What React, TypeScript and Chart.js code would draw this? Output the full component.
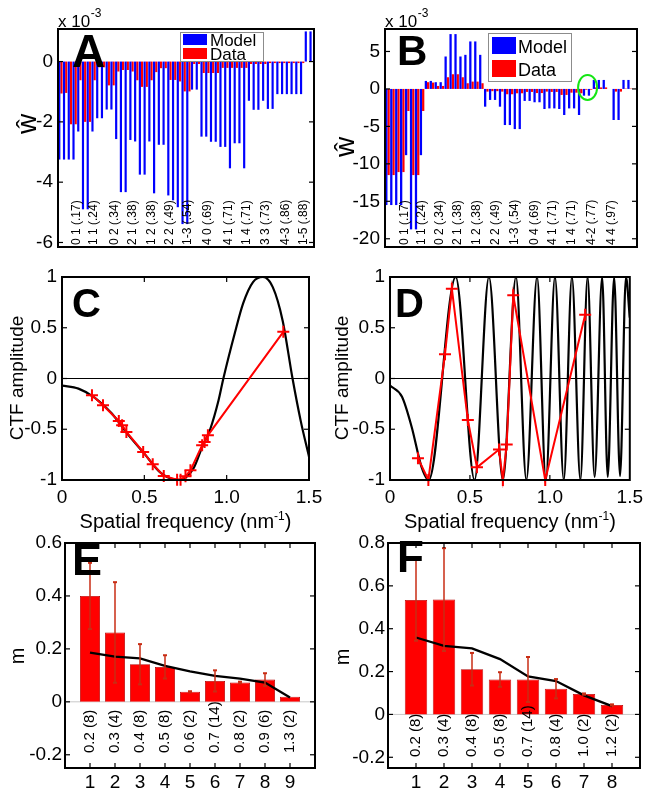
import React, { useEffect, useRef } from 'react';
import { Chart, registerables } from 'chart.js';

Chart.register(...registerables);

const W = 649;
const H = 794;
const FAMILY = '"Liberation Sans", Arial, Helvetica, sans-serif';
Chart.defaults.font.family = FAMILY;
Chart.defaults.color = '#000';

// ================= DATA =================
// Panel A  (w-hat, units of 1e-3)
const aModel = [-3.25, -3.25, -3.25, -3.25, -2.32, -4.9, -4.9, -2.32, -1.88, -1.88, -1.59, -1.59, -2.57, -4.33, -4.33, -2.6, -2.65, -3.75, -3.75, -2.65, -4.37, -2.76, -2.76, -4.44, -4.6, -4.83, -5.39, -5.39, -0.93, -0.93, -2.49, -2.49, -2.66, -2.66, -2.83, -2.83, -3.54, -2.71, -2.71, -3.54, -1.3, -1.6, -1.6, -1.3, -1.57, -1.57, -1.08, -1.08, -1.08, -1.08, -1.08, -1.08, 1.0, 1.0];
const aData = [-1.06, -1.04, -2.08, -2.08, -0.62, -2.0, -2.0, -0.62, -0.19, -0.19, -0.79, -0.79, -0.33, -0.28, -0.28, -0.33, -0.62, -0.84, -0.84, -0.62, -0.35, -0.22, -0.22, -0.61, -0.61, -0.66, -0.99, -0.99, -0.08, -0.08, -0.38, -0.38, -0.38, -0.38, -0.21, -0.21, -0.21, -0.21, -0.21, -0.21, -0.08, -0.08, -0.08, -0.08, -0.05, -0.05, -0.05, -0.05, -0.05, -0.05, -0.05, -0.05, 0, 0];
const aLabels = ['0 1 (.17)', '1 1 (.24)', '0 2 (.34)', '2 1 (.38)', '1 2 (.38)', '2 2 (.49)', '1-3 (.54)', '4 0 (.69)', '4 1 (.71)', '1 4 (.71)', '3 3 (.73)', '4-3 (.86)', '1-5 (.88)'];
const aLabelAt = [3.5, 7.1, 11.5, 15.3, 19.3, 23.1, 26.9, 31.0, 35.4, 39.4, 43.3, 47.5, 51.4];
const aYTicks = [-6, -4, -2, 0];
const aYTickLabels = ['-6', '-4', '-2', '0'];

// Panel B
const bModel = [-15.5, -15.5, -15.5, -15.5, -8.84, -18.75, -18.75, -8.84, 1.07, 1.07, 0.9, 0.9, 4.33, 7.32, 7.32, 4.33, 4.55, 6.34, 6.34, 4.55, -2.37, -1.47, -1.47, -2.37, -4.82, -4.82, -5.36, -5.36, -1.6, -1.6, -1.78, -1.78, -2.68, -2.6, -2.6, -2.68, -3.48, -2.6, -2.6, -3.48, -0.9, -0.9, 1.2, 1.2, 1.2, 0, -4.15, -4.15, 1.2, 1.2, 0];
const bData = [-11.5, -11.5, -11.1, -11.1, -2.95, -11.5, -11.5, -2.95, 0.9, 0.85, 0.4, 0.4, 1.56, 1.96, 1.96, 1.56, 0.76, 0.98, 0.98, 0.76, -0.36, -0.3, -0.3, -0.36, -0.71, -0.71, -0.58, -0.58, -0.4, -0.4, -0.55, -0.55, -0.36, -0.4, -0.4, -0.8, -0.8, -0.5, -0.5, -0.58, -0.1, -0.1, 0.2, 0.2, 0.2, 0, -0.36, -0.36, 0.05, 0.05, 0];
const bLabels = ['0 1 (.17)', '1 1 (.24)', '0 2 (.34)', '2 1 (.38)', '1 2 (.38)', '2 2 (.49)', '1-3 (.54)', '0 4 (.69)', '4 1 (.71)', '1 4 (.71)', '4-2 (.77)', '4 4 (.97)'];
const bLabelAt = [3.5, 7.0, 10.6, 14.3, 18.1, 21.8, 25.8, 29.7, 33.5, 37.3, 41.4, 45.3];
const bYTicks = [-20, -15, -10, -5, 0, 5];
const bYTickLabels = ['-20', '-15', '-10', '-5', '0', '5'];

// Panel C  (CTF curve and measured points)
const cCurveX = [0, 0.1, 0.2, 0.3, 0.4, 0.5, 0.6, 0.71, 0.8, 0.85, 0.9, 0.95, 0.98, 1.05, 1.1, 1.16, 1.22, 1.28, 1.34, 1.4, 1.45, 1.5];
const cCurveY = [-0.07, -0.1, -0.19, -0.34, -0.55, -0.74, -0.93, -1.0, -0.88, -0.68, -0.5, -0.22, 0, 0.45, 0.74, 0.95, 1.0, 0.9, 0.57, 0, -0.42, -0.77];
const cDataX = [0.182, 0.249, 0.345, 0.365, 0.391, 0.493, 0.551, 0.618, 0.699, 0.72, 0.75, 0.78, 0.851, 0.866, 0.886, 1.344];
const cDataY = [-0.164, -0.263, -0.418, -0.46, -0.526, -0.724, -0.845, -0.96, -0.997, -0.997, -0.964, -0.905, -0.658, -0.625, -0.56, 0.46];

// Panel D
const dCurveX = [0, 0.075, 0.136, 0.197, 0.242, 0.411, 0.529, 0.619, 0.706, 0.788, 0.853, 0.92, 0.975, 1.032, 1.087, 1.138, 1.191, 1.236, 1.28, 1.327, 1.362, 1.402, 1.439, 1.476, 1.5];
const dCurveY = [-0.07, -0.18, -0.48, -0.87, -1, 1, -1, 1, -1, 1, -1, 1, -1, 1, -1, 1, -1, 1, -0.97, 1, -0.97, 1, -0.96, 1, 0.6];
const dDataX = [0.175, 0.24, 0.344, 0.387, 0.487, 0.544, 0.682, 0.706, 0.73, 0.771, 0.971, 1.221];
const dDataY = [-0.785, -1.0, 0.24, 0.885, -0.41, -0.875, -0.7, -1.0, -0.65, 0.82, -1.0, 0.627];

const ctfXTicks = [0, 0.5, 1.0, 1.5];
const ctfXTickLabels = ['0', '0.5', '1.0', '1.5'];
const ctfYTicks = [-1, -0.5, 0, 0.5, 1];
const ctfYTickLabels = ['-1', '-0.5', '0', '0.5', '1'];

// Panel E
const eMean = [0.4, 0.262, 0.142, 0.132, 0.038, 0.079, 0.073, 0.084, 0.019];
const eErr = [0.125, 0.19, 0.076, 0.044, 0.002, 0.04, 0.003, 0.024, 0];
const eModel = [0.186, 0.171, 0.164, 0.136, 0.115, 0.098, 0.088, 0.073, 0.016];
const eLabels = ['0.2 (8)', '0.3 (4)', '0.4 (8)', '0.5 (8)', '0.6 (2)', '0.7 (14)', '0.8 (2)', '0.9 (6)', '1.3 (2)'];
const eXTicks = [1, 2, 3, 4, 5, 6, 7, 8, 9];
const eYTicks = [-0.2, 0, 0.2, 0.4, 0.6];
const eYTickLabels = ['-0.2', '0', '0.2', '0.4', '0.6'];

// Panel F
const fMean = [0.534, 0.536, 0.211, 0.163, 0.163, 0.12, 0.095, 0.044];
const fErr = [0.19, 0.24, 0.076, 0.034, 0.105, 0.045, 0.003, 0.003];
const fModel = [0.359, 0.32, 0.308, 0.258, 0.177, 0.156, 0.089, 0.039];
const fLabels = ['0.2 (8)', '0.3 (4)', '0.4 (8)', '0.5 (8)', '0.7 (14)', '0.8 (4)', '1.0 (2)', '1.2 (2)'];
const fXTicks = [1, 2, 3, 4, 5, 6, 7, 8];
const fYTicks = [-0.2, 0, 0.2, 0.4, 0.6, 0.8];
const fYTickLabels = ['-0.2', '0', '0.2', '0.4', '0.6', '0.8'];

// ================= LAYOUT / HELPERS =================
type Box = { l: number; t: number; r: number; b: number };
const boxA: Box = { l: 58, t: 29, r: 314, b: 247 };
const boxB: Box = { l: 385, t: 29, r: 637, b: 247 };
const boxC: Box = { l: 62, t: 277, r: 309, b: 480 };
const boxD: Box = { l: 390, t: 277, r: 636, b: 480 };
const boxE: Box = { l: 65, t: 543, r: 315, b: 768 };
const boxF: Box = { l: 388, t: 543, r: 640, b: 768 };

const TICK_FONT = { size: 19, family: FAMILY };

function yAxis(box: Box, min: number, max: number, ticks: number[], labels: string[], pad: number) {
  return {
    type: 'linear',
    position: 'left',
    min,
    max,
    grid: { display: false, drawTicks: false },
    border: { display: false },
    afterBuildTicks: (s: any) => {
      s.ticks = ticks.map((v) => ({ value: v }));
    },
    afterFit: (s: any) => {
      s.width = box.l;
    },
    ticks: {
      callback: (_v: any, i: number) => labels[i],
      font: TICK_FONT,
      color: '#000',
      padding: pad,
      autoSkip: false,
    },
  };
}

function xAxis(box: Box, min: number, max: number, ticks: number[], labels: string[], pad: number) {
  return {
    type: 'linear',
    position: 'bottom',
    min,
    max,
    offset: false,
    grid: { display: false, drawTicks: false },
    border: { display: false },
    afterBuildTicks: (s: any) => {
      s.ticks = ticks.map((v) => ({ value: v }));
    },
    afterFit: (s: any) => {
      s.height = H - box.b;
    },
    ticks: {
      callback: (_v: any, i: number) => labels[i],
      font: TICK_FONT,
      color: '#000',
      padding: pad,
      autoSkip: false,
      maxRotation: 0,
      minRotation: 0,
    },
  };
}

function baseOptions(box: Box, scales: any, hiddenX: boolean) {
  return {
    responsive: false,
    maintainAspectRatio: false,
    animation: false,
    devicePixelRatio: 1,
    events: [],
    layout: {
      autoPadding: false,
      padding: { left: 0, top: box.t, right: W - box.r, bottom: hiddenX ? H - box.b : 0 },
    },
    plugins: { legend: { display: false }, tooltip: { enabled: false }, title: { display: false } },
    scales,
  };
}

function font(size: number, bold = false) {
  return `${bold ? 'bold ' : ''}${size}px ${FAMILY}`;
}

function text(ctx: CanvasRenderingContext2D, s: string, x: number, y: number, f: string, align: CanvasTextAlign = 'left', baseline: CanvasTextBaseline = 'alphabetic', rot = 0, color = '#000') {
  ctx.save();
  ctx.translate(x, y);
  if (rot) ctx.rotate(rot);
  ctx.font = f;
  ctx.textAlign = align;
  ctx.textBaseline = baseline;
  ctx.fillStyle = color;
  ctx.fillText(s, 0, 0);
  ctx.restore();
}

function seg(ctx: CanvasRenderingContext2D, x1: number, y1: number, x2: number, y2: number) {
  ctx.beginPath();
  ctx.moveTo(x1, y1);
  ctx.lineTo(x2, y2);
  ctx.stroke();
}

interface Deco {
  xMarks?: number[];
  yMarks?: number[];
  zero?: { color: string; width: number };
  letter: { text: string; x: number; y: number; size: number };
  yTitle?: { text: string; x: number; y: number; size: number };
  xTitle?: { y: number; size: number };
  exponent?: { x: number; y: number };
  legend?: { x: number; y: number; w: number; h: number; size: number; swX: number; swW: number; swH: number; rowTops: number[]; textX: number; baselines: number[] };
  inLabels?: { texts: string[]; at: number[]; bottom: number; size: number };
  errors?: { mean: number[]; err: number[] };
  ellipse?: { at: number; value: number; rx: number; ry: number };
}

function deco(o: Deco) {
  return {
    id: 'deco',
    beforeDatasetsDraw(chart: any) {
      if (!o.zero) return;
      const { ctx, chartArea: a, scales } = chart;
      const y = scales.y.getPixelForValue(0);
      ctx.save();
      ctx.strokeStyle = o.zero.color;
      ctx.lineWidth = o.zero.width;
      seg(ctx, a.left, y, a.right, y);
      ctx.restore();
    },
    afterDatasetsDraw(chart: any) {
      if (!o.errors) return;
      const { ctx, scales } = chart;
      ctx.save();
      ctx.strokeStyle = 'rgb(200,45,20)';
      o.errors.mean.forEach((m, i) => {
        const e = o.errors!.err[i];
        if (!e) return;
        const px = scales.x.getPixelForValue(i + 1);
        const y1 = scales.y.getPixelForValue(m - e);
        const y2 = scales.y.getPixelForValue(m + e);
        ctx.lineWidth = 1.5;
        seg(ctx, px, y1, px, y2);
        ctx.lineWidth = 2;
        seg(ctx, px - 2, y1, px + 2, y1);
        seg(ctx, px - 2, y2, px + 2, y2);
      });
      ctx.restore();
    },
    afterDraw(chart: any) {
      const { ctx, chartArea: a, scales } = chart;
      ctx.save();
      // in-plot rotated labels
      if (o.inLabels) {
        const L = o.inLabels;
        L.texts.forEach((t, i) => {
          const px = scales.x.getPixelForValue(L.at[i]);
          text(ctx, t, px, L.bottom, font(L.size), 'left', 'middle', -Math.PI / 2);
        });
      }
      // inward tick marks
      ctx.strokeStyle = '#000';
      ctx.lineWidth = 1.2;
      const tl = 5;
      (o.yMarks || []).forEach((v) => {
        const y = scales.y.getPixelForValue(v);
        seg(ctx, a.left, y, a.left + tl, y);
        seg(ctx, a.right, y, a.right - tl, y);
      });
      (o.xMarks || []).forEach((v) => {
        const x = scales.x.getPixelForValue(v);
        seg(ctx, x, a.bottom, x, a.bottom - tl);
        seg(ctx, x, a.top, x, a.top + tl);
      });
      // frame
      ctx.lineWidth = 2;
      ctx.strokeRect(a.left, a.top, a.right - a.left, a.bottom - a.top);
      // ellipse highlight
      if (o.ellipse) {
        const E = o.ellipse;
        const cx = scales.x.getPixelForValue(E.at);
        const cy = scales.y.getPixelForValue(E.value);
        ctx.strokeStyle = 'rgb(20,230,20)';
        ctx.lineWidth = 2;
        ctx.beginPath();
        ctx.ellipse(cx, cy, E.rx, E.ry, 0, 0, Math.PI * 2);
        ctx.stroke();
      }
      // legend
      if (o.legend) {
        const g = o.legend;
        ctx.fillStyle = '#fff';
        ctx.fillRect(g.x, g.y, g.w, g.h);
        ctx.strokeStyle = '#8c8c8c';
        ctx.lineWidth = 1;
        ctx.strokeRect(g.x + 0.5, g.y + 0.5, g.w, g.h);
        const cols = ['rgb(0,0,255)', 'rgb(255,0,0)'];
        const names = ['Model', 'Data'];
        names.forEach((n, i) => {
          ctx.fillStyle = cols[i];
          ctx.fillRect(g.swX, g.rowTops[i], g.swW, g.swH);
          text(ctx, n, g.textX, g.baselines[i], font(g.size));
        });
      }
      // exponent
      if (o.exponent) {
        text(ctx, 'x 10', o.exponent.x, o.exponent.y, font(17));
        ctx.font = font(17);
        const w = ctx.measureText('x 10').width;
        text(ctx, '-3', o.exponent.x + w + 0.5, o.exponent.y - 10, font(12));
      }
      // y title
      if (o.yTitle) {
        const t = o.yTitle;
        text(ctx, t.text, t.x, t.y, font(t.size), 'center', 'middle', -Math.PI / 2);
      }
      // x title with superscript
      if (o.xTitle) {
        const t = o.xTitle;
        const main = 'Spatial frequency (nm';
        const sup = '-1';
        const end = ')';
        ctx.font = font(t.size);
        const w1 = ctx.measureText(main).width;
        const w3 = ctx.measureText(end).width;
        ctx.font = font(Math.round(t.size * 0.62));
        const w2 = ctx.measureText(sup).width;
        const cx = (a.left + a.right) / 2;
        const x0 = cx - (w1 + w2 + w3) / 2;
        text(ctx, main, x0, t.y, font(t.size));
        text(ctx, sup, x0 + w1, t.y - t.size * 0.42, font(Math.round(t.size * 0.62)));
        text(ctx, end, x0 + w1 + w2, t.y, font(t.size));
      }
      // panel letter
      text(ctx, o.letter.text, o.letter.x, o.letter.y, font(o.letter.size, true));
      ctx.restore();
    },
  };
}

// ================= CHART CONFIGS =================
function wBarConfig(box: Box, model: number[], data: number[], ymin: number, ymax: number, yt: number[], ytl: string[], d: Deco) {
  const cats = model.map((_, i) => String(i + 1));
  return {
    type: 'bar',
    data: {
      labels: cats,
      datasets: [
        { label: 'Model', data: model, backgroundColor: 'rgb(0,0,255)', borderWidth: 0, categoryPercentage: 0.92, barPercentage: 1.0 },
        { label: 'Data', data: data, backgroundColor: 'rgb(255,0,0)', borderWidth: 0, categoryPercentage: 0.92, barPercentage: 1.0 },
      ],
    },
    options: baseOptions(
      box,
      {
        x: { type: 'category', display: false, offset: true, grid: { display: false } },
        y: yAxis(box, ymin, ymax, yt, ytl, 5),
      },
      true,
    ),
    plugins: [deco(d)],
  };
}

function ctfConfig(box: Box, cx: number[], cy: number[], dx: number[], dy: number[], d: Deco) {
  return {
    type: 'line',
    data: {
      datasets: [
        {
          label: 'measured',
          data: dx.map((x, i) => ({ x, y: dy[i] })),
          borderColor: 'rgb(255,0,0)',
          borderWidth: 2,
          pointStyle: 'cross',
          pointRadius: 6,
          pointBorderWidth: 2,
          pointBorderColor: 'rgb(255,0,0)',
          pointBackgroundColor: 'rgb(255,0,0)',
          tension: 0,
          clip: false,
          order: 0,
        },
        {
          label: 'CTF',
          data: cx.map((x, i) => ({ x, y: cy[i] })),
          borderColor: '#000',
          borderWidth: 2.2,
          pointRadius: 0,
          cubicInterpolationMode: 'monotone',
          order: 1,
        },
      ],
    },
    options: baseOptions(
      box,
      {
        x: xAxis(box, 0, 1.5, ctfXTicks, ctfXTickLabels, 6),
        y: yAxis(box, -1, 1, ctfYTicks, ctfYTickLabels, 5),
      },
      false,
    ),
    plugins: [deco(d)],
  };
}

function mConfig(box: Box, mean: number[], model: number[], xmax: number, ymax: number, xt: number[], yt: number[], ytl: string[], d: Deco) {
  return {
    type: 'bar',
    data: {
      datasets: [
        {
          type: 'line',
          label: 'model',
          data: model.map((y, i) => ({ x: i + 1, y })),
          borderColor: '#000',
          borderWidth: 2.3,
          pointRadius: 0,
          order: 0,
        },
        {
          type: 'bar',
          label: 'm',
          data: mean.map((y, i) => ({ x: i + 1, y })),
          backgroundColor: 'rgb(255,0,0)',
          borderColor: 'rgb(180,0,0)',
          borderWidth: 0.8,
          categoryPercentage: 1.0,
          barPercentage: 0.8,
          order: 1,
        },
      ],
    },
    options: baseOptions(
      box,
      {
        x: xAxis(box, 0, xmax, xt, xt.map(String), 3),
        y: yAxis(box, -0.25, ymax, yt, ytl, 3),
      },
      false,
    ),
    plugins: [deco(d)],
  };
}

function buildConfigs(): any[] {
  const A = wBarConfig(boxA, aModel, aData, -6.15, 1.08, aYTicks, aYTickLabels, {
    yMarks: aYTicks,
    letter: { text: 'A', x: 72, y: 67, size: 46 },
    yTitle: { text: 'ŵ', x: 28, y: 124, size: 28 },
    exponent: { x: 58, y: 27 },
    legend: { x: 180, y: 32, w: 83, h: 29, size: 17, swX: 183, swW: 24, swH: 11, rowTops: [34, 48], textX: 210, baselines: [46, 60] },
    inLabels: { texts: aLabels, at: aLabelAt, bottom: 245, size: 12 },
  });
  const B = wBarConfig(boxB, bModel, bData, -21.1, 8, bYTicks, bYTickLabels, {
    yMarks: bYTicks,
    letter: { text: 'B', x: 397, y: 65, size: 42 },
    yTitle: { text: 'ŵ', x: 346, y: 147, size: 28 },
    exponent: { x: 385, y: 27 },
    legend: { x: 488, y: 33, w: 83, h: 48, size: 18, swX: 492, swW: 24, swH: 17, rowTops: [37, 60], textX: 518, baselines: [53, 76] },
    inLabels: { texts: bLabels, at: bLabelAt, bottom: 245, size: 12 },
    ellipse: { at: 40.5, value: 0.2, rx: 9.5, ry: 12.5 },
  });
  const C = ctfConfig(boxC, cCurveX, cCurveY, cDataX, cDataY, {
    xMarks: [0.5, 1.0],
    yMarks: [-0.5, 0, 0.5],
    zero: { color: '#000', width: 1 },
    letter: { text: 'C', x: 72, y: 317, size: 40 },
    yTitle: { text: 'CTF amplitude', x: 18, y: 378, size: 19 },
    xTitle: { y: 528, size: 20 },
  });
  const D = ctfConfig(boxD, dCurveX, dCurveY, dDataX, dDataY, {
    xMarks: [0.5, 1.0],
    yMarks: [-0.5, 0, 0.5],
    zero: { color: '#000', width: 1 },
    letter: { text: 'D', x: 395, y: 317, size: 40 },
    yTitle: { text: 'CTF amplitude', x: 343, y: 378, size: 19 },
    xTitle: { y: 528, size: 20 },
  });
  const E = mConfig(boxE, eMean, eModel, 10, 0.6, eXTicks, eYTicks, eYTickLabels, {
    xMarks: eXTicks,
    yMarks: [-0.2, 0, 0.2, 0.4],
    zero: { color: '#c8c8c8', width: 1 },
    letter: { text: 'E', x: 72, y: 575, size: 45 },
    yTitle: { text: 'm', x: 18, y: 656, size: 20 },
    inLabels: { texts: eLabels, at: eXTicks, bottom: 753, size: 15 },
    errors: { mean: eMean, err: eErr },
  });
  const F = mConfig(boxF, fMean, fModel, 9, 0.8, fXTicks, fYTicks, fYTickLabels, {
    xMarks: fXTicks,
    yMarks: [-0.2, 0, 0.2, 0.4, 0.6],
    zero: { color: '#c8c8c8', width: 1 },
    letter: { text: 'F', x: 397, y: 572, size: 44 },
    yTitle: { text: 'm', x: 343, y: 657, size: 20 },
    inLabels: { texts: fLabels, at: fXTicks, bottom: 757, size: 15 },
    errors: { mean: fMean, err: fErr },
  });
  return [A, B, C, D, E, F];
}

export default function App() {
  const refs = useRef<(HTMLCanvasElement | null)[]>([]);
  useEffect(() => {
    const cfgs = buildConfigs();
    const charts = cfgs.map((c, i) => new Chart(refs.current[i] as HTMLCanvasElement, c as any));
    return () => charts.forEach((c) => c.destroy());
  }, []);
  return (
    <div style={{ position: 'absolute', left: 0, top: 0, width: W, height: H, background: '#fff', overflow: 'hidden' }}>
      {[0, 1, 2, 3, 4, 5].map((i) => (
        <canvas
          key={i}
          ref={(el) => {
            refs.current[i] = el;
          }}
          width={W}
          height={H}
          style={{ position: 'absolute', left: 0, top: 0, width: W, height: H }}
        />
      ))}
    </div>
  );
}
